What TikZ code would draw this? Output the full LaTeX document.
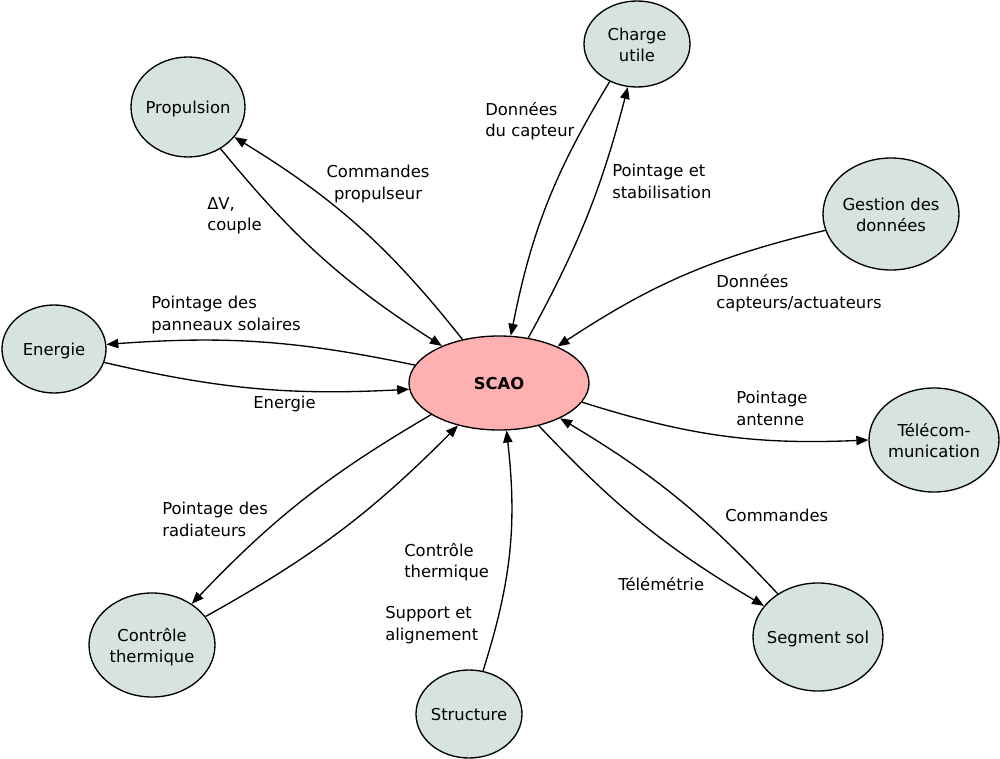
\documentclass[tikz,border=0pt]{standalone}
\usepackage{fontspec}
\setmainfont{DejaVu Sans}
\usetikzlibrary{shapes.geometric,arrows.meta}
\definecolor{nodefill}{RGB}{214,227,225}
\definecolor{scaofill}{RGB}{255,176,176}
\newcommand{\ntxt}[1]{\makebox[0pt]{\raisebox{-2pt}[\height][\depth]{\begin{tabular}{@{}c@{}}#1\end{tabular}}}}
\begin{document}
\begin{tikzpicture}[x=0.75pt,y=-0.75pt,
  nd/.style={ellipse,draw,line width=1pt,fill=nodefill,inner sep=0pt,font=\fontsize{12.3}{15.75}\selectfont},
  lbl/.style={inner sep=0pt,align=left,anchor=north west,font=\fontsize{12.3}{16.2}\selectfont},
  arr/.style={-{Triangle[length=9pt,width=7pt]},line width=1pt}]
\useasboundingbox (0,0) rectangle (1000,759);
\node[nd,fill=scaofill,minimum width=135pt,minimum height=70.5pt,font=\fontsize{12.3}{15.75}\selectfont\bfseries] (scao) at (499,383) {\ntxt{SCAO}};
\node[nd,minimum width=79.5pt,minimum height=64.5pt] (cu) at (637,44) {\ntxt{Charge\\utile}};
\node[nd,minimum width=85.5pt,minimum height=75pt] (prop) at (188,107) {\ntxt{Propulsion}};
\node[nd,minimum width=102pt,minimum height=84pt] (gd) at (891,214) {\ntxt{Gestion des\\données}};
\node[nd,minimum width=78pt,minimum height=66pt] (en) at (54,349) {\ntxt{Energie}};
\node[nd,minimum width=97.5pt,minimum height=78pt] (tel) at (934,440) {\ntxt{Télécom-\\munication}};
\node[nd,minimum width=97.5pt,minimum height=81pt] (ss) at (818,637) {\ntxt{Segment sol}};
\node[nd,minimum width=94.5pt,minimum height=78pt] (ct) at (152,645) {\ntxt{Contrôle\\thermique}};
\node[nd,minimum width=79.5pt,minimum height=66pt] (st) at (469,714) {\ntxt{Structure}};

\draw[arr] (scao.130) to[bend right=10] (prop.-33);
\draw[arr] (prop.-52) to[bend right=9] (scao.147);
\draw[arr] (scao.57) to[bend right=7] (cu.258);
\draw[arr] (cu.234) to[bend right=10] (scao.76);
\draw[arr] (gd.194) to[bend right=10] (scao.32);
\draw[arr] (scao.168) to[bend right=8] (en.5);
\draw[arr] (en.-15) to[bend right=8] (scao.184);
\draw[arr] (scao.-13) to[bend right=10] (tel.180);
\draw[arr] (scao.-47) to[bend right=8] (ss.150);
\draw[arr] (ss.133) to[bend right=8] (scao.-30);
\draw[arr] (scao.205) to[bend right=8] (ct.46);
\draw[arr] (ct.28) to[bend right=8] (scao.226);
\draw[arr] (st.72) to[bend right=12] (scao.-81);

\node[lbl] (l1) at (485,102) {Données\\du capteur};
\node[lbl] (l2) at (207,197) {ΔV,\\couple};
\node[lbl,align=center,anchor=north] (l3) at (378,165) {Commandes\\propulseur};
\node[lbl] (l4) at (612,164) {Pointage et\\stabilisation};
\node[lbl] (l5) at (716,274) {Données\\capteurs/actuateurs};
\node[lbl] (l6) at (151,296) {Pointage des\\panneaux solaires};
\node[lbl] (l7) at (253,396) {Energie};
\node[lbl] (l8) at (736,391) {Pointage\\antenne};
\node[lbl] (l9) at (725,509) {Commandes};
\node[lbl] (l10) at (618,577) {Télémétrie};
\node[lbl] (l11) at (162,502) {Pointage des\\radiateurs};
\node[lbl] (l12) at (404,543) {Contrôle\\thermique};
\node[lbl] (l13) at (385,606) {Support et\\alignement};
\end{tikzpicture}
\end{document}
